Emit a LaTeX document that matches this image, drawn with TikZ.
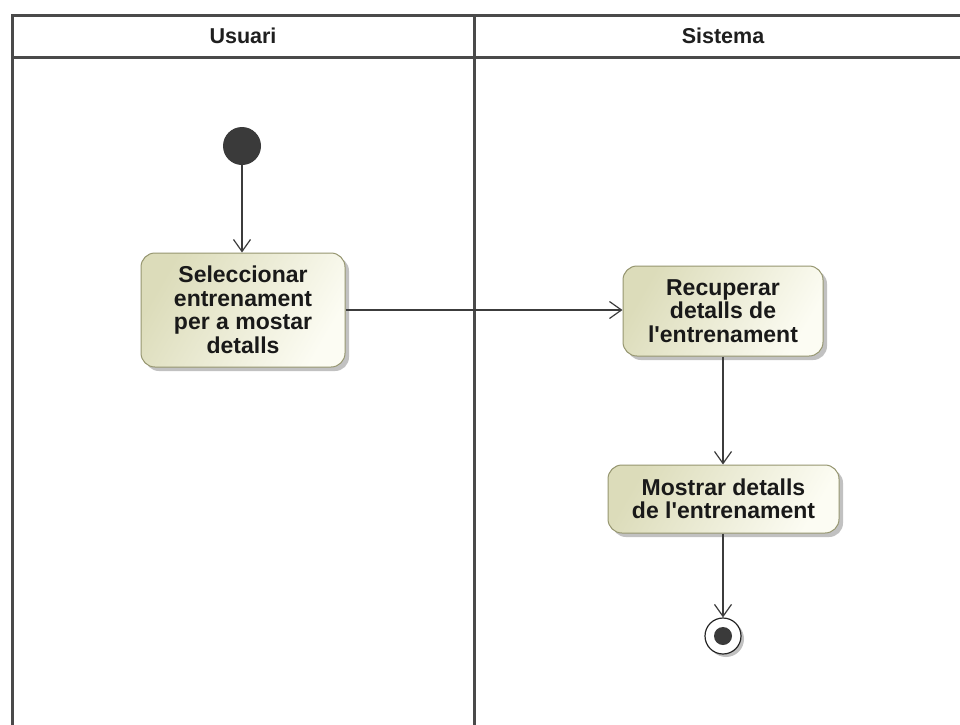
\documentclass[tikz,border=0pt]{standalone}
\usepackage{fontspec}
\setmainfont{Liberation Sans}
\usetikzlibrary{arrows.meta,shadows,shadings}
\definecolor{laneline}{HTML}{4A4A4A}
\definecolor{boxdark}{RGB}{220,220,186}
\definecolor{boxlight}{RGB}{252,252,243}
\definecolor{boxborder}{RGB}{150,150,112}
\definecolor{flowline}{HTML}{3C3C3C}
\definecolor{startfill}{HTML}{3A3A3A}
\newcommand{\apos}{\textquotesingle}
\begin{document}
\begin{tikzpicture}[x=1pt,y=-1pt,
  lane/.style={draw=laneline,line width=3pt},
  lanetitle/.style={font=\fontsize{21.5}{24}\selectfont\bfseries,text=black!88},
  action/.style={draw=boxborder,line width=1pt,rounded corners=14pt,
    left color=boxdark,right color=boxlight,shading angle=60,
    align=center,inner sep=0pt,
    font=\fontsize{23}{23.5}\selectfont\bfseries,text=black!90,
    drop shadow={shadow xshift=4pt,shadow yshift=-4pt,opacity=0.4,fill=black!60}},
  flow/.style={draw=flowline,line width=1.2pt,
    -{Straight Barb[length=12pt,width=17pt,line width=1.2pt]}},
  initial/.style={circle,fill=startfill,minimum size=38pt,inner sep=0pt},
  final/.style={circle,draw=black!85,fill=white,line width=1.2pt,minimum size=36pt,inner sep=0pt,
    drop shadow={shadow xshift=3pt,shadow yshift=-3pt,opacity=0.4,fill=black!60}},
  finaldot/.style={circle,fill=startfill,minimum size=18pt,inner sep=0pt}]
\useasboundingbox (0,0) rectangle (960,724);
\fill[white] (0,0) rectangle (960,724);

% swimlane frame
\draw[lane] (990,15) -- (12,15) -- (12,740);
\draw[lane] (12,57) -- (990,57);
\draw[lane] (474,15) -- (474,740);
\node[lanetitle] (usuari) at (243,36) {Usuari};
\node[lanetitle] (sistema) at (723,36) {Sistema};

% activity nodes
\node[initial] (start) at (242,146) {};
\node[action,minimum width=204pt,minimum height=114pt] (sel) at (243,310)
  {Seleccionar\\entrenament\\per a mostar\\detalls};
\node[action,minimum width=200pt,minimum height=90pt] (rec) at (723,311)
  {Recuperar\\detalls de\\l\apos entrenament};
\node[action,minimum width=231pt,minimum height=68pt] (most) at (723.5,499)
  {Mostrar detalls\\de l\apos entrenament};
\node[final] (end) at (723,636) {};
\node[finaldot] (enddot) at (end.center) {};

% control flows
\draw[flow] (start) -- (sel.north -| start);
\draw[flow] (sel.east) -- (rec.west |- sel.east);
\draw[flow] (rec.south) -- (most.north -| rec.south);
\draw[flow] (most.south -| end) -- (end.north);
\end{tikzpicture}
\end{document}
